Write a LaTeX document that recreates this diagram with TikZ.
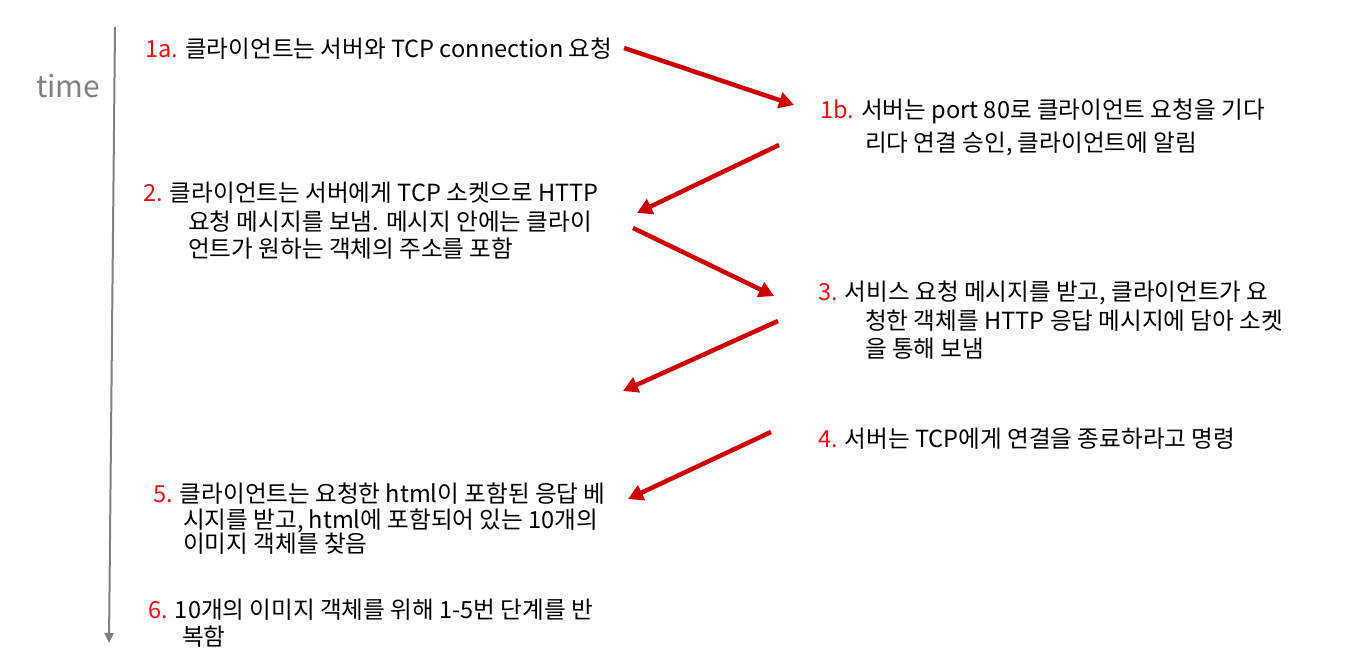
\documentclass[tikz,border=0pt]{standalone}
\usepackage{fontspec}
\setmainfont{Noto Sans CJK KR}
\usetikzlibrary{arrows.meta}
\definecolor{numred}{RGB}{232,16,20}
\definecolor{arrred}{RGB}{204,0,0}
\definecolor{axisgray}{RGB}{128,128,128}
\begin{document}
\begin{tikzpicture}[x=1pt,y=-1pt,
  txt/.style={anchor=base west, inner sep=0pt, font=\fontsize{23.6}{28}\selectfont, text=black},
  redarrow/.style={draw=arrred, line width=4.5pt, -{Triangle[length=15pt,width=16pt]}},
  timeaxis/.style={draw=axisgray, line width=2pt, -{Triangle[length=10pt,width=9pt]}}]
\useasboundingbox (0,0) rectangle (1358,655);
\fill[white] (0,0) rectangle (1358,655);
% time axis
\node[txt, text=axisgray, font=\fontsize{30}{36}\selectfont] (time) at (36,98) {time};
\coordinate (ttop) at (115,27);
\coordinate (tbot) at (109,643);
\draw[timeaxis] (ttop) -- (tbot);
% step texts
\node[txt] (s1a) at (145,58) {\textcolor{numred}{1a.} 클라이언트는 서버와 TCP connection 요청};
\node[txt] (s1b1) at (820,119) {\textcolor{numred}{1b.} 서버는 port 80로 클라이언트 요청을 기다};
\node[txt] (s1b2) at (865,152) {리다 연결 승인, 클라이언트에 알림};
\node[txt] (s21) at (143,202) {\textcolor{numred}{2.} 클라이언트는 서버에게 TCP 소켓으로 HTTP};
\node[txt] (s22) at (188,231) {요청 메시지를 보냄. 메시지 안에는 클라이};
\node[txt] (s23) at (188,258) {언트가 원하는 객체의 주소를 포함};
\node[txt] (s31) at (818,301) {\textcolor{numred}{3.} 서비스 요청 메시지를 받고, 클라이언트가 요};
\node[txt] (s32) at (865,329) {청한 객체를 HTTP 응답 메시지에 담아 소켓};
\node[txt] (s33) at (865,357) {을 통해 보냄};
\node[txt] (s4) at (818,447) {\textcolor{numred}{4.} 서버는 TCP에게 연결을 종료하라고 명령};
\node[txt] (s51) at (153,502) {\textcolor{numred}{5.} 클라이언트는 요청한 html이 포함된 응답 베};
\node[txt] (s52) at (183,528) {시지를 받고, html에 포함되어 있는 10개의};
\node[txt] (s53) at (183,552) {이미지 객체를 찾음};
\node[txt] (s61) at (148,618) {\textcolor{numred}{6.} 10개의 이미지 객체를 위해 1-5번 단계를 반};
\node[txt] (s62) at (182,645) {복함};
% arrows
\coordinate (a1s) at (624,48);  \coordinate (a1e) at (794,105);
\coordinate (a2s) at (779,145); \coordinate (a2e) at (637,213);
\coordinate (a3s) at (633,228); \coordinate (a3e) at (774,296);
\coordinate (a4s) at (778,321); \coordinate (a4e) at (623,391);
\coordinate (a5s) at (771,432); \coordinate (a5e) at (628,499);
\draw[redarrow] (a1s) -- (a1e);
\draw[redarrow] (a2s) -- (a2e);
\draw[redarrow] (a3s) -- (a3e);
\draw[redarrow] (a4s) -- (a4e);
\draw[redarrow] (a5s) -- (a5e);
\end{tikzpicture}
\end{document}
